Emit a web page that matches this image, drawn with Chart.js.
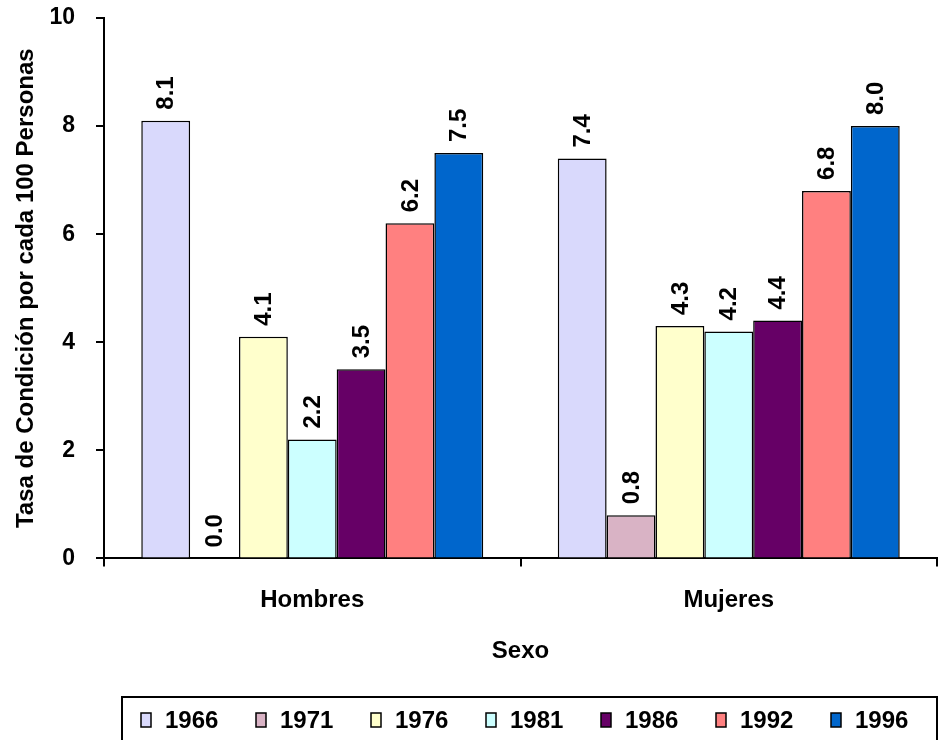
<!DOCTYPE html>
<html>
<head>
<meta charset="utf-8">
<script src="https://cdn.jsdelivr.net/npm/chart.js@4/dist/chart.umd.min.js"></script>
<style>
  html, body { margin: 0; padding: 0; background: #ffffff; }
  #wrap { width: 943px; height: 740px; position: relative; }
</style>
</head>
<body>
<div id="wrap"><canvas id="c" width="943" height="740"></canvas></div>
<script>
const categories = ['Hombres', 'Mujeres'];
const years = ['1966', '1971', '1976', '1981', '1986', '1992', '1996'];
const v1966 = [8.1, 7.4];
const v1971 = [0.0, 0.8];
const v1976 = [4.1, 4.3];
const v1981 = [2.2, 4.2];
const v1986 = [3.5, 4.4];
const v1992 = [6.2, 6.8];
const v1996 = [7.5, 8.0];
const yTicks = [0, 2, 4, 6, 8, 10];
const xTitle = 'Sexo';
const yTitle = 'Tasa de Condición por cada 100 Personas';

const seriesValues = [v1966, v1971, v1976, v1981, v1986, v1992, v1996];
const colors = ['#D9D9FC', '#D9B3C5', '#FFFFCC', '#CCFFFF', '#660066', '#FF8080', '#0066CC'];
const FONT = '"Liberation Sans", Arial, sans-serif';

const datasets = years.map((y, i) => ({
  label: y,
  data: seriesValues[i],
  backgroundColor: colors[i],
  borderColor: '#000000',
  borderWidth: 1.5,
  categoryPercentage: 0.821,
  barPercentage: 1.0
}));

const dataLabels = {
  id: 'dataLabels',
  afterDatasetsDraw(chart) {
    const ctx = chart.ctx;
    ctx.save();
    ctx.fillStyle = '#000';
    ctx.font = 'bold 24px ' + FONT;
    ctx.textAlign = 'left';
    ctx.textBaseline = 'middle';
    chart.data.datasets.forEach((ds, di) => {
      const meta = chart.getDatasetMeta(di);
      meta.data.forEach((el, i) => {
        const v = ds.data[i];
        ctx.save();
        ctx.translate(el.x + 1, el.y - 11);
        ctx.rotate(-Math.PI / 2);
        ctx.fillText(v.toFixed(1), 0, 0);
        ctx.restore();
      });
    });
    ctx.restore();
  }
};

const boxLegend = {
  id: 'boxLegend',
  afterDraw(chart) {
    const ctx = chart.ctx;
    ctx.save();
    ctx.strokeStyle = '#000';
    ctx.lineWidth = 2;
    ctx.strokeRect(122, 697, 815, 50);
    ctx.font = 'bold 24px ' + FONT;
    ctx.textBaseline = 'middle';
    ctx.textAlign = 'left';
    chart.data.datasets.forEach((ds, i) => {
      const bx = 141 + i * 115;
      ctx.fillStyle = ds.backgroundColor;
      ctx.fillRect(bx, 713, 10, 14);
      ctx.lineWidth = 1.5;
      ctx.strokeStyle = '#000';
      ctx.strokeRect(bx, 713, 10, 14);
      ctx.fillStyle = '#000';
      ctx.fillText(ds.label, bx + 24, 721);
    });
    ctx.restore();
  }
};

new Chart(document.getElementById('c'), {
  type: 'bar',
  data: { labels: categories, datasets },
  plugins: [dataLabels, boxLegend],
  options: {
    responsive: false,
    animation: false,
    devicePixelRatio: 1,
    layout: { padding: { left: 0, right: 6, top: 18, bottom: 74 } },
    plugins: {
      legend: { display: false },
      tooltip: { enabled: false }
    },
    scales: {
      x: {
        offset: true,
        grid: { display: true, drawOnChartArea: false, drawTicks: true, offset: true, tickLength: 8, color: '#000', lineWidth: 2 },
        border: { display: true, color: '#000', width: 2 },
        ticks: { color: '#000', font: { family: FONT, size: 24, weight: 'bold' }, padding: 20 },
        title: { display: true, text: xTitle, color: '#000', font: { family: FONT, size: 24, weight: 'bold' }, padding: { top: 2, bottom: 0 } }
      },
      y: {
        min: 0,
        max: 10,
        afterFit(scale) { scale.width = 104; scale.paddingTop = 0; scale.paddingBottom = 0; },
        afterBuildTicks(scale) { scale.ticks = yTicks.map(v => ({ value: v })); },
        grid: { display: true, drawOnChartArea: false, drawTicks: true, tickLength: 8, color: '#000', lineWidth: 2 },
        border: { display: true, color: '#000', width: 2 },
        ticks: { color: '#000', font: { family: FONT, size: 23, weight: 'bold' }, padding: 21 },
        title: { display: true, text: yTitle, color: '#000', font: { family: FONT, size: 24, weight: 'bold' }, padding: { top: 12, bottom: 0 } }
      }
    }
  }
});
</script>
</body>
</html>
